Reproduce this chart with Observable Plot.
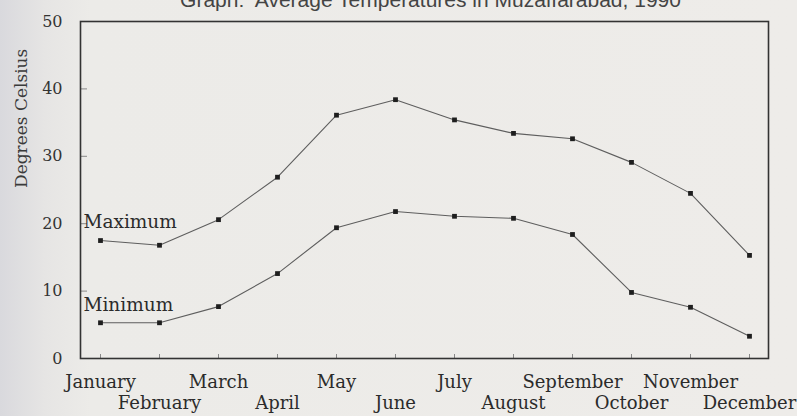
<!DOCTYPE html>
<html>
<head>
<meta charset="utf-8">
<script src="https://cdn.jsdelivr.net/npm/d3@7"></script>
<script src="https://cdn.jsdelivr.net/npm/@observablehq/plot@0.6"></script>
<style>
  html, body { margin: 0; padding: 0; overflow: hidden;
    background: linear-gradient(to right, #d9d9dd 0px, #e6e5e4 45px, #ecebe8 90px, #eeece9 100%); }
  #chart { width: 797px; height: 416px; }
  svg { display: block; }
</style>
</head>
<body>
<div id="chart"></div>
<script>
const title = "Graph:\u00a0 Average Temperatures in Muzaffarabad, 1990";
const months = ["January","February","March","April","May","June","July","August","September","October","November","December"];
const maxTemps = [17.5, 16.8, 20.6, 26.9, 36.1, 38.4, 35.4, 33.4, 32.6, 29.1, 24.5, 15.3];
const minTemps = [5.3, 5.3, 7.7, 12.6, 19.4, 21.8, 21.1, 20.8, 18.4, 9.8, 7.6, 3.3];
const yTicks = [0, 10, 20, 30, 40, 50];
const seriesLabels = ["Maximum", "Minimum"];
const yLabel = "Degrees Celsius";

const maxData = months.map((m, i) => ({month: m, t: maxTemps[i]}));
const minData = months.map((m, i) => ({month: m, t: minTemps[i]}));
const oddMonths = months.filter((_, i) => i % 2 === 0);
const evenMonths = months.filter((_, i) => i % 2 === 1);

const font = "'DejaVu Serif', 'Liberation Serif', serif";
const lineColor = "#5e5e5e";
const textColor = "#2b2b2b";

const chart = Plot.plot({
  width: 797,
  height: 416,
  marginLeft: 80,
  marginRight: 29,
  marginTop: 21,
  marginBottom: 58,
  style: {background: "transparent", fontFamily: font, fontSize: "16px", color: textColor, overflow: "hidden"},
  x: {type: "point", domain: months, padding: 0.33},
  y: {domain: [0, 50]},
  marks: [
    Plot.axisY(yTicks, {tickSize: 0, tickPadding: 18, label: null, fontSize: 16, fill: "#333"}),
    Plot.axisX(oddMonths, {tickSize: 0, tickPadding: 17, label: null, fontSize: 18, fill: textColor}),
    Plot.axisX(evenMonths, {tickSize: 0, tickPadding: 38, label: null, fontSize: 18, fill: textColor}),
    Plot.tickY(yTicks.slice(1, -1), {y: d => d, insetRight: 681, stroke: "#888", strokeWidth: 1}),
    Plot.tickX(months, {x: d => d, insetTop: 333, stroke: "#888", strokeWidth: 1}),
    Plot.text([yLabel], {text: d => d, frameAnchor: "left", rotate: -90, dx: -59, dy: -2, fontSize: 17, fill: "#3a3a3a"}),
    Plot.text([title], {text: d => d, frameAnchor: "top", lineAnchor: "bottom", dx: 6, dy: -15,
      fontFamily: "'Liberation Sans', Arial, sans-serif", fontSize: 21, fill: "#444"}),
    Plot.line(maxData, {x: "month", y: "t", stroke: lineColor, strokeWidth: 1.1}),
    Plot.line(minData, {x: "month", y: "t", stroke: lineColor, strokeWidth: 1.1}),
    Plot.dot(maxData, {x: "month", y: "t", symbol: "square", r: 2.7, fill: "#1e1e1e", stroke: "none"}),
    Plot.dot(minData, {x: "month", y: "t", symbol: "square", r: 2.7, fill: "#1e1e1e", stroke: "none"}),
    Plot.text([seriesLabels[0]], {x: () => months[0], y: () => maxTemps[0], text: d => d, textAnchor: "start", dx: -17, dy: -18, fontSize: 18.5, fill: textColor}),
    Plot.text([seriesLabels[1]], {x: () => months[0], y: () => minTemps[0], text: d => d, textAnchor: "start", dx: -17, dy: -18, fontSize: 18.5, fill: textColor}),
    Plot.frame({stroke: "#333", strokeWidth: 1.6})
  ]
});
document.getElementById("chart").appendChild(chart);
</script>
</body>
</html>
